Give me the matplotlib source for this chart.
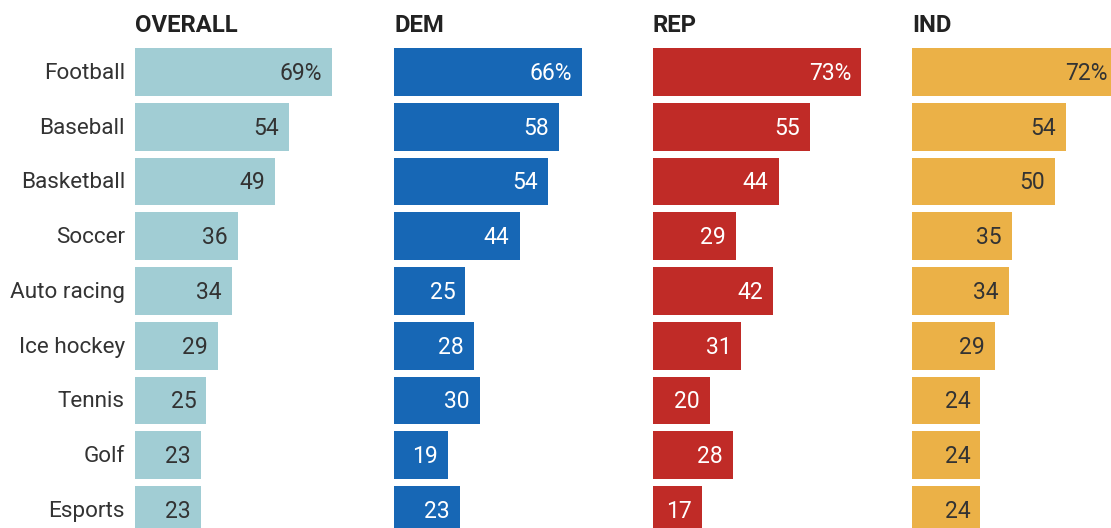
import matplotlib
matplotlib.use("Agg")
import matplotlib.pyplot as plt

# data
sports = ["Football", "Baseball", "Basketball", "Soccer", "Auto racing",
          "Ice hockey", "Tennis", "Golf", "Esports"]
groups = ["OVERALL", "DEM", "REP", "IND"]
overall = [69, 54, 49, 36, 34, 29, 25, 23, 23]
dem = [66, 58, 54, 44, 25, 28, 30, 19, 23]
rep = [73, 55, 44, 29, 42, 31, 20, 28, 17]
ind = [72, 54, 50, 35, 34, 29, 24, 24, 24]

series = [overall, dem, rep, ind]
colors = ["#a1cdd4", "#1767b5", "#c02b27", "#ebb147"]
txt_colors = ["#333333", "white", "white", "#333333"]

W, H = 1111, 528
px_unit = 2.853          # pixels per percentage point
row_h = 54.7             # pixels between rows
first_row = 72.15        # pixel y of the first bar centre
panel_x = [135, 394, 653, 912]
panel_w = 250

fig = plt.figure(figsize=(W / 100, H / 100), dpi=100)
font = "Roboto"

for k in range(4):
    ax = fig.add_axes([panel_x[k] / W, 0, panel_w / W, 1])
    ax.barh(range(len(sports)), series[k], height=47.7 / row_h,
            color=colors[k], edgecolor="none")
    ax.set_xlim(0, panel_w / px_unit)
    ax.set_ylim((H - first_row) / row_h, -first_row / row_h)
    ax.axis("off")
    for i, v in enumerate(series[k]):
        lab = f"{v}%" if i == 0 else str(v)
        ax.text(v - 10 / px_unit, i - 0.02, lab, ha="right", va="center_baseline",
                color=txt_colors[k], fontsize=16.5, family=font)
    if k == 0:
        for i, s in enumerate(sports):
            ax.text(-10 / px_unit, i - 0.02, s, ha="right", va="center_baseline",
                    color="#333333", fontsize=16.2, family=font, clip_on=False)
    fig.text(panel_x[k] / W, 1 - 32.5 / H, groups[k], ha="left", va="baseline",
             fontsize=17.2, fontweight="bold", family=font, color="#222222")

fig.savefig("out.png", dpi=100)
